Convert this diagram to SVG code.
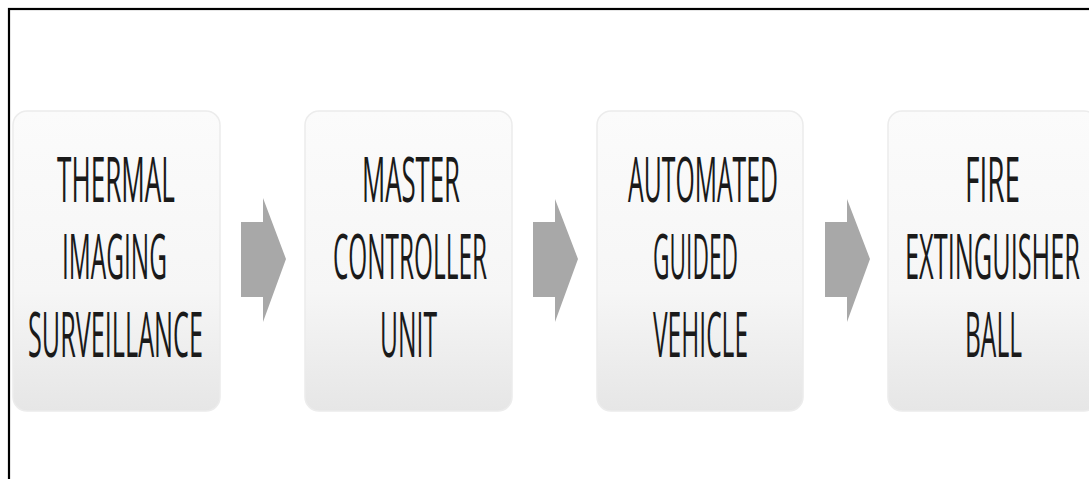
<svg xmlns="http://www.w3.org/2000/svg" width="1089" height="479" viewBox="0 0 1089 479">
<style>
.box{fill:url(#bg);stroke:#ececec;stroke-width:1.5}
.lbl{font-family:"Open Sans","Liberation Sans",sans-serif;font-size:62px;fill:#1a1a1a;text-anchor:start}
.arr{fill:#a8a8a8}
</style>
<defs>
<linearGradient id="bg" x1="0" y1="0" x2="0" y2="1">
<stop offset="0" stop-color="#fbfbfb"/>
<stop offset="0.6" stop-color="#f6f6f6"/>
<stop offset="1" stop-color="#e6e6e6"/>
</linearGradient>
</defs>
<rect width="1089" height="479" fill="#ffffff"/>
<rect x="9" y="9" width="1100" height="500" fill="none" stroke="#000" stroke-width="2.2"/>
<g id="node1">
<rect class="box" x="13" y="111" width="207" height="300" rx="14"/>
<text class="lbl" x="57" y="202" textLength="118" lengthAdjust="spacingAndGlyphs">THERMAL</text>
<text class="lbl" x="62" y="279" textLength="105" lengthAdjust="spacingAndGlyphs">IMAGING</text>
<text class="lbl" x="28" y="357" textLength="175" lengthAdjust="spacingAndGlyphs">SURVEILLANCE</text>
</g>
<g id="node2">
<rect class="box" x="305" y="111" width="207" height="300" rx="14"/>
<text class="lbl" x="362" y="202" textLength="98" lengthAdjust="spacingAndGlyphs">MASTER</text>
<text class="lbl" x="333" y="279" textLength="154" lengthAdjust="spacingAndGlyphs">CONTROLLER</text>
<text class="lbl" x="380" y="357" textLength="57" lengthAdjust="spacingAndGlyphs">UNIT</text>
</g>
<g id="node3">
<rect class="box" x="597" y="111" width="206" height="300" rx="14"/>
<text class="lbl" x="628" y="202" textLength="150" lengthAdjust="spacingAndGlyphs">AUTOMATED</text>
<text class="lbl" x="653" y="279" textLength="85" lengthAdjust="spacingAndGlyphs">GUIDED</text>
<text class="lbl" x="653" y="357" textLength="95" lengthAdjust="spacingAndGlyphs">VEHICLE</text>
</g>
<g id="node4">
<rect class="box" x="888" y="111" width="210" height="300" rx="14"/>
<text class="lbl" x="965" y="202" textLength="55" lengthAdjust="spacingAndGlyphs">FIRE</text>
<text class="lbl" x="905" y="279" textLength="175" lengthAdjust="spacingAndGlyphs">EXTINGUISHER</text>
<text class="lbl" x="965" y="357" textLength="57" lengthAdjust="spacingAndGlyphs">BALL</text>
</g>
<g id="connectors">
<polygon class="arr" points="241,222 263,222 263,198 286,259 263,322 263,297 241,297"/>
<polygon class="arr" points="533,222 555,222 555,199 578,259 555,322 555,297 533,297"/>
<polygon class="arr" points="825,222 847,222 847,199 870,259 847,322 847,297 825,297"/>
</g>
</svg>
